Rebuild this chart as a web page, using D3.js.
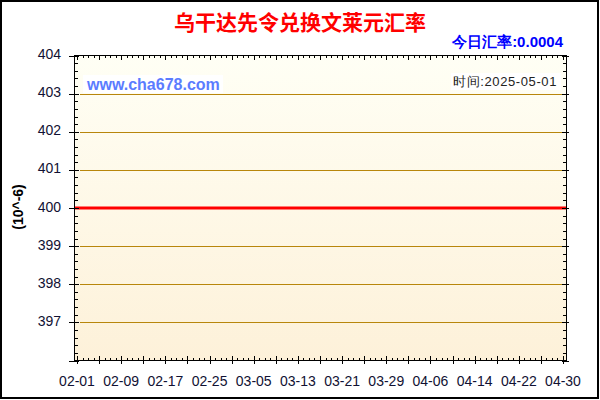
<!DOCTYPE html>
<html>
<head>
<meta charset="utf-8">
<script src="https://cdn.jsdelivr.net/npm/d3@7"></script>
<style>
  body { margin: 0; background: #fff; }
  svg { display: block; font-family: "Liberation Sans", Arial, sans-serif; }
</style>
</head>
<body>
<script>
// data: UGX -> BND rate, in units of 10^-6
let dates = ["2025-01-31",
  "2025-02-01","2025-02-02","2025-02-03","2025-02-04","2025-02-05","2025-02-06","2025-02-07","2025-02-08","2025-02-09","2025-02-10",
  "2025-02-11","2025-02-12","2025-02-13","2025-02-14","2025-02-15","2025-02-16","2025-02-17","2025-02-18","2025-02-19","2025-02-20",
  "2025-02-21","2025-02-22","2025-02-23","2025-02-24","2025-02-25","2025-02-26","2025-02-27","2025-02-28",
  "2025-03-01","2025-03-02","2025-03-03","2025-03-04","2025-03-05","2025-03-06","2025-03-07","2025-03-08","2025-03-09","2025-03-10",
  "2025-03-11","2025-03-12","2025-03-13","2025-03-14","2025-03-15","2025-03-16","2025-03-17","2025-03-18","2025-03-19","2025-03-20",
  "2025-03-21","2025-03-22","2025-03-23","2025-03-24","2025-03-25","2025-03-26","2025-03-27","2025-03-28","2025-03-29","2025-03-30","2025-03-31",
  "2025-04-01","2025-04-02","2025-04-03","2025-04-04","2025-04-05","2025-04-06","2025-04-07","2025-04-08","2025-04-09","2025-04-10",
  "2025-04-11","2025-04-12","2025-04-13","2025-04-14","2025-04-15","2025-04-16","2025-04-17","2025-04-18","2025-04-19","2025-04-20",
  "2025-04-21","2025-04-22","2025-04-23","2025-04-24","2025-04-25","2025-04-26","2025-04-27","2025-04-28","2025-04-29","2025-04-30",
  "2025-05-01"]
let rates = [400,
  400,400,400,400,400,400,400,400,400,400,
  400,400,400,400,400,400,400,400,400,400,
  400,400,400,400,400,400,400,400,
  400,400,400,400,400,400,400,400,400,400,
  400,400,400,400,400,400,400,400,400,400,
  400,400,400,400,400,400,400,400,400,400,400,
  400,400,400,400,400,400,400,400,400,400,
  400,400,400,400,400,400,400,400,400,400,
  400,400,400,400,400,400,400,400,400,400,
  400]
let xLabels = ["02-01","02-09","02-17","02-25","03-05","03-13","03-21","03-29","04-06","04-14","04-22","04-30"]
let yLabels = [397, 398, 399, 400, 401, 402, 403, 404]
let title = "乌干达先令兑换文莱元汇率"
let todayRate = "今日汇率:0.0004"
let updated = "时间:2025-05-01"
let unit = "(10^-6)"

let w = 600, h = 400
let pL = 74, pR = 567, pT = 55, pB = 361
let parse = d3.timeParse("%Y-%m-%d")
let data = dates.map((d, i) => ({date: parse(d), v: rates[i]}))

let svg = d3.select("body").append("svg")
    .attr("width", w)
    .attr("height", h)

let first = parse("2025-02-01"), last = parse("2025-04-30")
let xScale = d3.scaleTime()
    .domain([first, last])
    .range([77, 563])
let yScale = d3.scaleLinear()
    .domain([396, 404])
    .range([pB - 0.5, pT + 0.5])

let defs = svg.append("defs")
let grad = defs.append("linearGradient")
    .attr("id", "bg")
    .attr("x1", 0).attr("y1", 0).attr("x2", 0).attr("y2", 1)
grad.append("stop").attr("offset", "0%").attr("stop-color", "#fffff5")
grad.append("stop").attr("offset", "100%").attr("stop-color", "#fdf1d9")
defs.append("clipPath").attr("id", "plot")
    .append("rect")
    .attr("x", pL).attr("y", pT)
    .attr("width", pR - pL).attr("height", pB - pT)

svg.append("rect")
    .attr("x", pL).attr("y", pT)
    .attr("width", pR - pL).attr("height", pB - pT)
    .attr("fill", "url(#bg)")

// horizontal grid
svg.append("g").selectAll("line")
    .data(yLabels.filter(d => d < 404))
    .enter()
    .append("line")
    .attr("x1", pL + 6).attr("x2", pR)
    .attr("y1", d => Math.round(yScale(d)) + 0.5)
    .attr("y2", d => Math.round(yScale(d)) + 0.5)
    .attr("stroke", "#b8860b")
    .attr("stroke-width", 1)

// watermark & date boxes
let wm = svg.append("g")
wm.append("rect").attr("x", 83).attr("y", 75).attr("width", 140).attr("height", 18).attr("fill", "#fff")
wm.append("text")
    .attr("x", 87).attr("y", 90)
    .attr("font-size", 16).attr("font-weight", "bold")
    .attr("fill", "#5b7cff")
    .text("www.cha678.com")
wm.append("rect").attr("x", 451).attr("y", 73).attr("width", 110).attr("height", 17).attr("fill", "#fff")
wm.append("text")
    .attr("x", 557).attr("y", 86)
    .attr("text-anchor", "end")
    .attr("font-size", 13)
    .attr("letter-spacing", 0.6)
    .attr("fill", "#222")
    .text(updated)

// rate line
let line = d3.line()
    .x(d => xScale(d.date))
    .y(d => yScale(d.v))
svg.append("path")
    .datum(data)
    .attr("clip-path", "url(#plot)")
    .attr("d", line)
    .attr("fill", "none")
    .attr("stroke", "#ff0000")
    .attr("stroke-width", 3)

// frame
svg.append("rect")
    .attr("x", pL + 0.5).attr("y", pT + 0.5)
    .attr("width", pR - pL - 1).attr("height", pB - pT - 1)
    .attr("fill", "none")
    .attr("stroke", "#000")

// ticks
let days = d3.timeDay.range(first, d3.timeDay.offset(last, 1))
let ticks = svg.append("g").attr("stroke", "#000").attr("stroke-width", 1)
days.forEach((d, i) => {
    let x = Math.round(xScale(d)) + 0.5
    let major = i % 4 == 0
    ticks.append("line").attr("x1", x).attr("x2", x)
        .attr("y1", pB - (major ? 5 : 3)).attr("y2", pB + (major ? 3 : 0))
    ticks.append("line").attr("x1", x).attr("x2", x)
        .attr("y1", pT).attr("y2", pT + (major ? 5 : 3))
})
let yMinor = d3.range(396, 404.01, 0.2)
yMinor.forEach(v => {
    let y = Math.round(yScale(v)) + 0.5
    let major = Math.abs(v - Math.round(v)) < 0.01
    ticks.append("line").attr("y1", y).attr("y2", y)
        .attr("x1", pL - (major ? 5 : 0)).attr("x2", pL + (major ? 5 : 4))
    ticks.append("line").attr("y1", y).attr("y2", y)
        .attr("x1", pR - (major ? 5 : 4)).attr("x2", pR + (major ? 2 : 0))
})

// tick labels
svg.append("g").selectAll("text")
    .data(xLabels)
    .enter()
    .append("text")
    .attr("x", d => xScale(parse("2025-" + d)))
    .attr("y", 386)
    .attr("text-anchor", "middle")
    .attr("font-size", 14)
    .attr("fill", "#111133")
    .text(d => d)
svg.append("g").selectAll("text")
    .data(yLabels)
    .enter()
    .append("text")
    .attr("x", 61)
    .attr("y", d => yScale(d) + 3.5)
    .attr("text-anchor", "end")
    .attr("font-size", 14)
    .attr("fill", "#111133")
    .text(d => d)

// titles
svg.append("text")
    .attr("x", 300).attr("y", 30)
    .attr("text-anchor", "middle")
    .attr("font-size", 21).attr("font-weight", "bold")
    .attr("font-family", "'Noto Sans CJK SC', sans-serif")
    .attr("fill", "#ff0000")
    .text(title)
svg.append("text")
    .attr("x", 563).attr("y", 47)
    .attr("text-anchor", "end")
    .attr("font-size", 15).attr("font-weight", "bold")
    .attr("fill", "#0000ff")
    .text(todayRate)
svg.append("text")
    .attr("transform", "translate(23,207) rotate(-90)")
    .attr("text-anchor", "middle")
    .attr("font-size", 14).attr("font-weight", "bold")
    .attr("fill", "#000")
    .text(unit)

// outer border
svg.append("rect")
    .attr("x", 1).attr("y", 1)
    .attr("width", 597).attr("height", 397)
    .attr("fill", "none")
    .attr("stroke", "#000")
    .attr("stroke-width", 2)
</script>
</body>
</html>
